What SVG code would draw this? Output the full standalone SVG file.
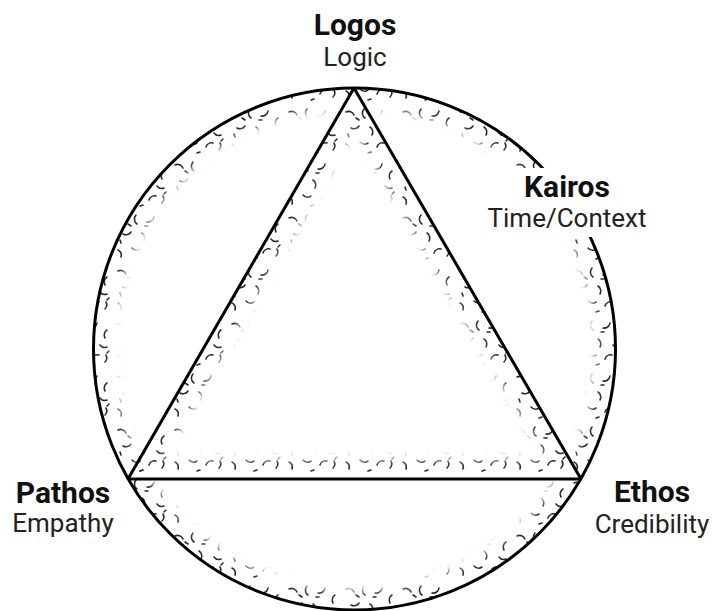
<svg xmlns="http://www.w3.org/2000/svg" width="712" height="611" viewBox="0 0 712 611">
<style>
.bold{font-family:Roboto,"Liberation Sans",sans-serif;font-weight:700;font-size:30px;fill:#111;text-anchor:middle}
.reg{font-family:Roboto,"Liberation Sans",sans-serif;font-weight:400;font-size:26px;fill:#222;text-anchor:middle}
.line{fill:none;stroke:#000;stroke-width:3;stroke-linejoin:round}
</style>
<defs>
<pattern id="tex" x="0" y="0" width="57" height="53" patternUnits="userSpaceOnUse">
<path fill="none" stroke="#2a2a2a" stroke-width="1.6" stroke-linecap="round" d="M4,6 a6,6 0 0 1 8,3 M22,3 a6,6 0 0 0 1,9 M40,5 a6,6 0 0 1 -7,5 M50,12 a6,6 0 0 0 -2,8 M9,22 a6,6 0 0 0 8,-2 M28,21 a6,6 0 0 1 2,8 M43,27 a6,6 0 0 0 7,2 M4,38 a6,6 0 0 1 3,7 M18,36 a6,6 0 0 0 8,1 M35,41 a6,6 0 0 1 7,-4 M48,44 a6,6 0 0 0 1,-7 M14,12 l3,2 M31,14 l3,0 M6,28 l1,3 M26,47 l3,-1 M52,33 l-2,2"/>
</pattern>
<filter id="blur" x="-10%" y="-10%" width="120%" height="120%"><feGaussianBlur stdDeviation="4"/></filter>
<clipPath id="circIn"><circle cx="354.5" cy="349" r="261"/></clipPath>
<clipPath id="triIn"><polygon points="354,88 128,479 581,479"/></clipPath>
<mask id="circMask" maskUnits="userSpaceOnUse" x="0" y="0" width="712" height="611"><circle cx="354.5" cy="349" r="261" fill="none" stroke="#fff" stroke-width="38" filter="url(#blur)"/></mask>
<mask id="triMask" maskUnits="userSpaceOnUse" x="0" y="0" width="712" height="611"><polygon points="354,88 128,479 581,479" fill="none" stroke="#fff" stroke-width="40" filter="url(#blur)"/></mask>
</defs>
<rect width="712" height="611" fill="#fff"/>
<g id="texture">
<g clip-path="url(#circIn)"><rect width="712" height="611" fill="url(#tex)" mask="url(#circMask)"/></g>
<g clip-path="url(#triIn)"><rect width="712" height="611" fill="url(#tex)" mask="url(#triMask)"/></g>
</g>
<g id="circle"><circle class="line" cx="354.5" cy="349" r="261"/></g>
<g id="connectors">
<line class="line" x1="354" y1="88" x2="128" y2="479"/>
<line class="line" x1="354" y1="88" x2="581" y2="479"/>
<line class="line" x1="128" y1="479" x2="581" y2="479"/>
</g>
<g id="logos"><text class="bold" x="355" y="35">Logos</text><text class="reg" x="355" y="66">Logic</text></g>
<g id="kairos"><rect x="486" y="168" width="166" height="69" fill="#fff"/><text class="bold" x="567" y="197">Kairos</text><text class="reg" x="567" y="227">Time/Context</text></g>
<g id="pathos"><text class="bold" x="63" y="503">Pathos</text><text class="reg" x="63" y="532">Empathy</text></g>
<g id="ethos"><text class="bold" x="652" y="502">Ethos</text><text class="reg" x="652" y="533">Credibility</text></g>
</svg>
